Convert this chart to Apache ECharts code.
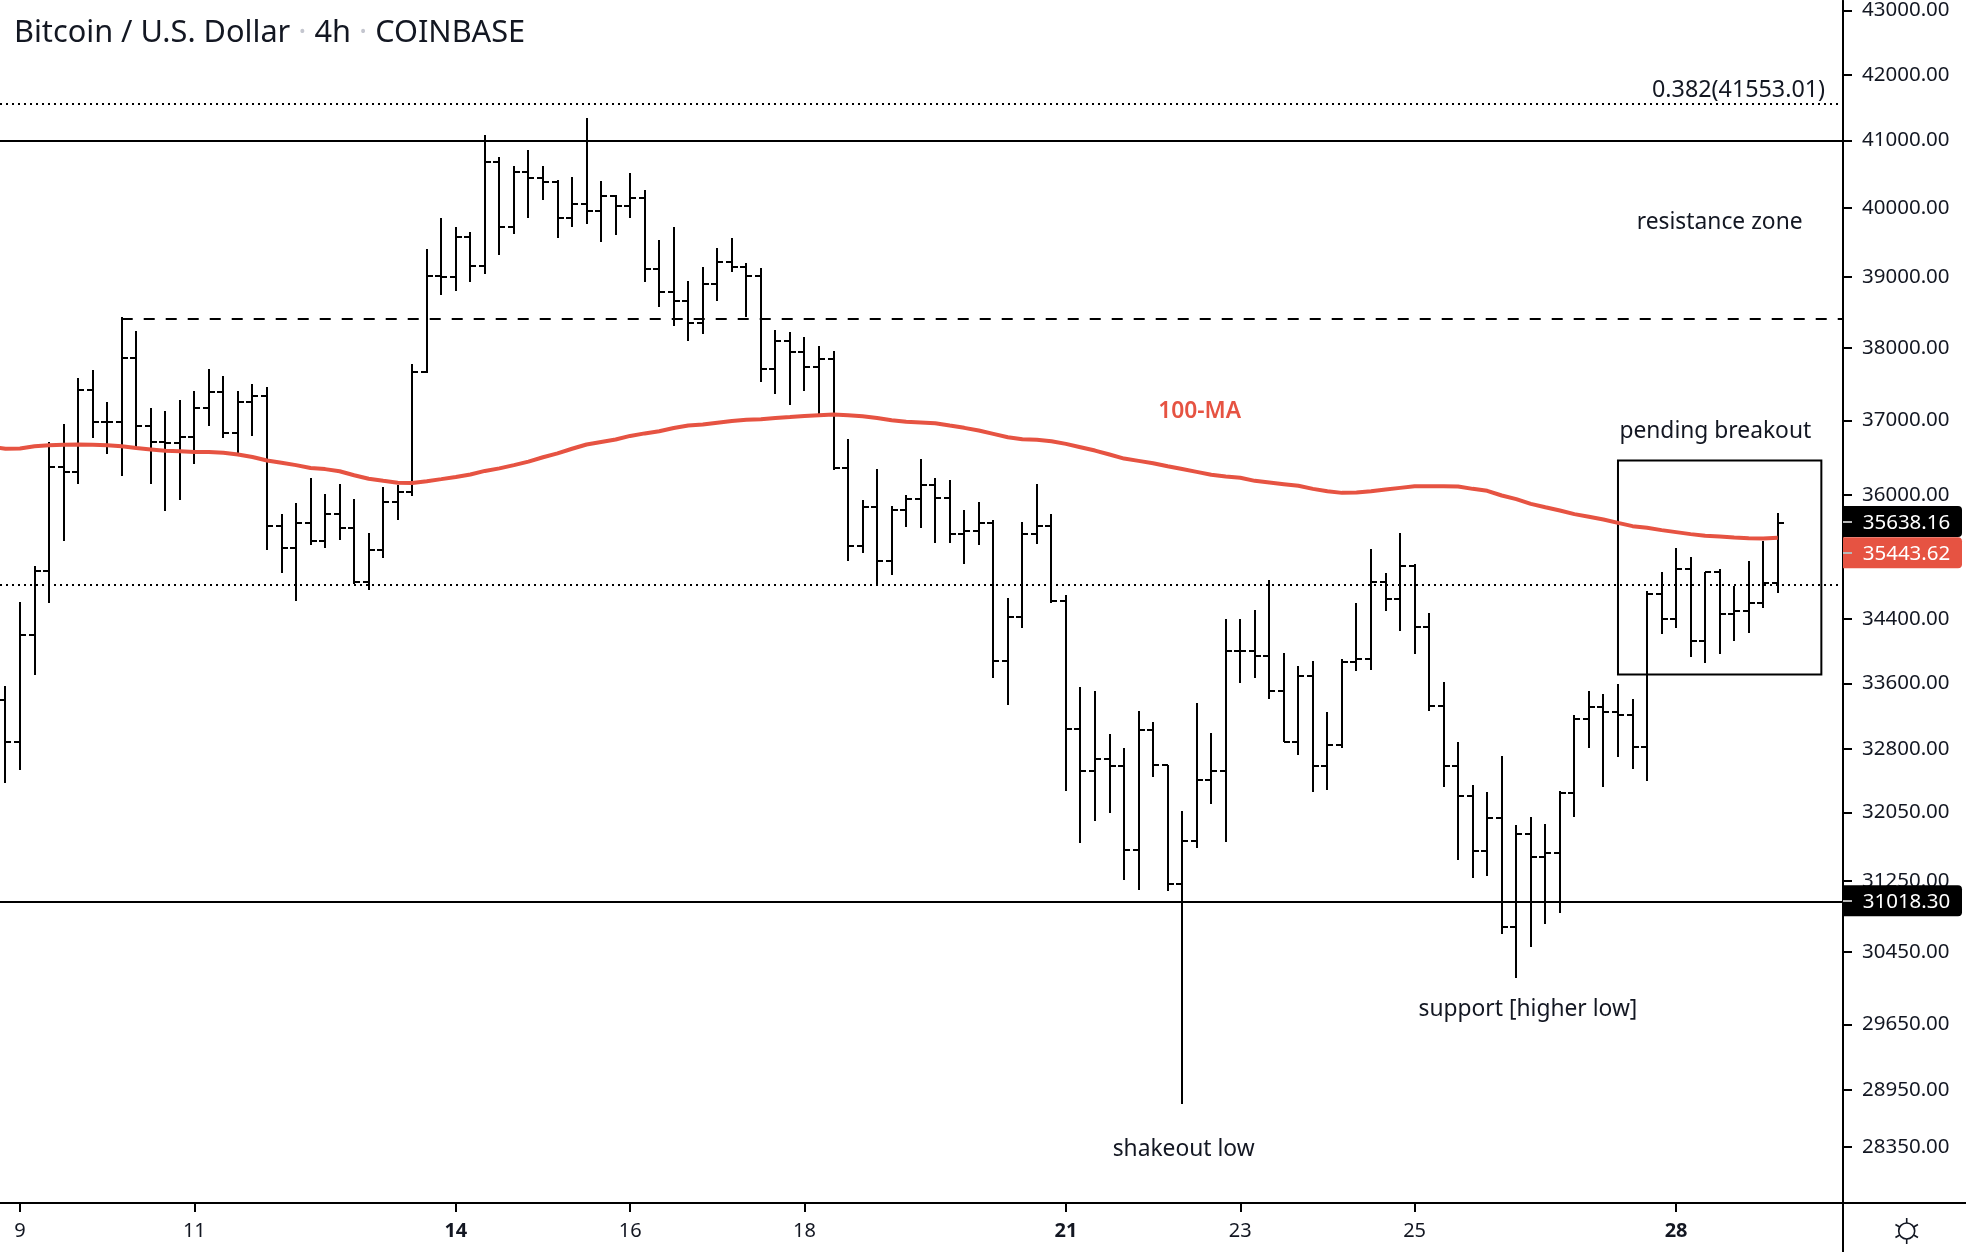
<!DOCTYPE html>
<html><head><meta charset="utf-8">
<script src="https://cdn.jsdelivr.net/npm/echarts@6/dist/echarts.min.js"></script>
<style>html,body{margin:0;padding:0;background:#fff}#c{width:1966px;height:1252px}</style>
</head><body><div id="c"></div>
<script>
const FONT = '"Noto Sans", sans-serif';
const INK = '#000000';
const RED = '#e65342';
const titleText = ['Bitcoin / U.S. Dollar', '4h', 'COINBASE'];
const opens = [
33402,32885,34196,35012,36380,36303,37413,36984,36984,37851,
36922,36705,36690,36777,37164,37393,36825,37256,37339,35602,
35305,35635,35407,35752,35565,34874,35278,35916,36048,37663,
39018,38992,39568,39161,40676,39724,40533,40432,40384,39844,
40053,39958,40168,40032,40137,39110,38779,38662,38350,38896,
39207,39146,39018,37708,38100,37945,37727,37841,36365,35342,
35841,35136,35809,35947,36130,35958,35490,35528,35638,33875,
34422,35490,35594,34625,33044,32538,32679,32598,31608,33034,
32614,31216,31711,32428,32538,34000,34000,33938,33501,32881,
33686,32597,32845,33859,33896,34871,34654,35072,34296,33326,
32597,32241,31597,31986,30730,31795,31528,31574,32276,33159,
33305,33253,33208,32821,34714,34401,35033,34121,34999,34460,
34498,34599,34866];
const highs = [
33567,34620,35080,36710,36955,37580,37693,37252,38430,38234,
37174,37135,37281,37403,37708,37609,37403,37501,37457,35756,
35897,36228,36019,36152,35954,35505,36109,36138,37777,39403,
39849,39719,39646,41077,40751,40617,40857,40617,40411,40453,
41341,40395,40184,40511,40263,39532,39719,38941,39141,39413,
39558,39197,39125,38249,38219,38149,38025,37955,36753,35939,
36348,35864,35997,36477,36225,36203,35809,35914,35676,34673,
35649,36147,35753,34710,33557,33511,32983,32815,33264,33126,
32609,32070,33361,32998,34406,34406,34519,34892,33979,33818,
33880,33253,33905,34608,35299,34990,35507,35106,34481,33620,
32889,32375,32292,32721,31904,31998,31916,32304,33216,33510,
33473,33596,33411,34752,35003,35312,35196,34999,35037,34824,
35144,35407,35768];
const lows = [
32395,32549,33702,34610,35398,36147,36762,36547,36251,36642,
36147,35789,35935,36413,36922,36762,36556,36786,35287,34988,
34628,35347,35310,35412,34842,34774,35186,35672,35991,37653,
38738,38794,38926,39038,39310,39615,39849,40110,39563,39719,
39760,39496,39599,39849,38921,38566,38310,38090,38189,38652,
39064,38435,37521,37359,37208,37398,37043,36337,35140,35245,
34828,34968,35588,35572,35380,35380,35109,35348,33666,33341,
34295,35359,34609,32303,31691,31946,32040,31259,31149,32468,
31139,28797,31628,32149,31701,33604,33665,33407,32881,32729,
32288,32312,32817,33752,33764,34502,34250,33963,33265,32347,
31493,31286,31309,30651,30161,30505,30763,30888,31994,32813,
32347,32705,32561,32418,34213,34292,33925,33851,33963,34125,
34225,34540,34730];
const closes = [
32885,34196,35012,36380,36303,37413,36984,36984,37851,36922,
36705,36690,36777,37164,37393,36825,37256,37339,35602,35305,
35635,35407,35752,35565,34874,35278,35916,36048,37663,39018,
38992,39568,39161,40676,39724,40533,40432,40384,39844,40053,
39958,40168,40032,40137,39110,38779,38662,38350,38896,39207,
39146,39018,37708,38100,37945,37727,37841,36365,35342,35841,
35136,35809,35947,36130,35958,35490,35528,35638,33875,34422,
35490,35594,34625,33044,32538,32679,32598,31608,33034,32614,
31216,31711,32428,32538,34000,34000,33938,33501,32881,33686,
32597,32845,33859,33896,34871,34654,35072,34296,33326,32597,
32241,31597,31986,30730,31795,31528,31574,32276,33159,33305,
33253,33208,32821,34714,34401,35033,34121,34999,34460,34498,
34599,34866,35638.16];
// 100-period moving average; the first value belongs to the bar just before the visible window
const ma100 = [
36642,36618,36623,36652,36666,36671,36676,36671,36666,36652,
36628,36609,36590,36585,36575,36575,36566,36542,36508,36461,
36432,36399,36360,36346,36318,36265,36218,36190,36166,36161,
36185,36213,36242,36275,36322,36356,36399,36446,36504,36556,
36618,36676,36710,36743,36791,36825,36854,36897,36931,36946,
36970,36994,37009,37018,37033,37047,37062,37072,37081,37072,
37057,37033,37004,36984,36974,36963,36931,36900,36864,36819,
36774,36747,36738,36720,36684,36639,36594,36541,36487,36456,
36425,36385,36348,36309,36270,36248,36231,36190,36168,36146,
36124,36084,36053,36031,36036,36053,36075,36097,36119,36119,
36119,36115,36084,36058,35996,35948,35886,35842,35799,35751,
35716,35681,35637,35594,35572,35542,35516,35490,35468,35459,
35446,35438,35433,35443.62];
const dayTickBars = [1,13,31,43,55,73,85,97,115];
const dayLabels = ['9','11','14','16','18','21','23','25','28'];
const boldDays = ['14','21','28'];
const priceTicks = [43000,42000,41000,40000,39000,38000,37000,36000,34400,33600,32800,32050,31250,30450,29650,28950,28350];
const fibLevel = 41553.01;
const resistanceLevel = 41000;
const breakoutLevel = 38410;
const midLevel = 34841;
const supportLevel = 31018.30;
const breakoutBar = 8;
const boxBars = [111,125];
const boxPrices = [36461,33711];
const lastPriceTags = [['35638.16','#000000',521.5],['35443.62',RED,552.7],['31018.30','#000000',900.8]];
const noteTexts = ['0.382(41553.01)','resistance zone','100-MA','pending breakout','support [higher low]','shakeout low'];
const noteBars = [119.3,118,82.2,117.7,104.8,81.1];
const notePrices = [41770,39804,37135,36864,29827,28336];

const xMin = -0.3786, xMax = 126.49;
const ohlc = opens.map((o,i)=>[i,o,closes[i],lows[i],highs[i]]);
const maData = ma100.map((v,i)=>[i-1,v]);
const notes = noteTexts.map((t,i)=>[noteBars[i],notePrices[i],i]);

function renderBar(params, api){
  const i = api.value(0);
  const x = Math.round(api.coord([i,api.value(1)])[0]);
  const y = v => Math.round(api.coord([i,v])[1]);
  const st = {stroke:INK,lineWidth:2,fill:null};
  return {type:'group',children:[
    {type:'line',shape:{x1:x,y1:y(api.value(4)),x2:x,y2:y(api.value(3))},style:st},
    {type:'line',shape:{x1:x-6,y1:y(api.value(1)),x2:x,y2:y(api.value(1))},style:st},
    {type:'line',shape:{x1:x,y1:y(api.value(2)),x2:x+6,y2:y(api.value(2))},style:st}
  ]};
}
function renderNote(params, api){
  const p = api.coord([api.value(0),api.value(1)]);
  const idx = api.value(2);
  const isMa = noteTexts[idx]==='100-MA';
  const isFib = idx===0;
  return {type:'text',x:p[0],y:p[1]+1,style:{text:noteTexts[idx],fill:isMa?RED:'#131722',
    font:(isMa?'600 ':'')+(isFib?'23.3px ':'22.8px ')+FONT,align:'center',verticalAlign:'middle'}};
}

const AX = 1843, BASE = 1203;
const chrome = [
  {type:'line',z:5,shape:{x1:AX,y1:BASE,x2:1966,y2:BASE},style:{stroke:INK,lineWidth:2}},
  {type:'line',z:5,shape:{x1:AX,y1:BASE,x2:AX,y2:1252},style:{stroke:INK,lineWidth:2}}
];
lastPriceTags.forEach(t=>{
  chrome.push({type:'rect',z:20,shape:{x:AX,y:t[2]-15.5,width:119,height:31,r:[0,4,4,0]},style:{fill:t[1]}});
  chrome.push({type:'line',z:21,shape:{x1:AX,y1:Math.round(t[2]),x2:AX+9,y2:Math.round(t[2])},style:{stroke:'#b8b8b8',lineWidth:2}});
  chrome.push({type:'text',z:21,x:1906.5,y:t[2]+1.5,style:{text:t[0],fill:'#ffffff',font:'20.5px '+FONT,align:'center',verticalAlign:'middle'}});
});
// settings cog
const cx=1906.7, cy=1231;
chrome.push({type:'circle',z:5,shape:{cx:cx,cy:cy,r:8},style:{fill:'none',stroke:'#131722',lineWidth:1.6}});
[90,30,-30,-90,-150,150].forEach(a=>{
  const r=a*Math.PI/180;
  chrome.push({type:'line',z:5,shape:{x1:cx+8*Math.cos(r),y1:cy-8*Math.sin(r),x2:cx+13*Math.cos(r),y2:cy-13*Math.sin(r)},style:{stroke:'#131722',lineWidth:1.6}});
});

const chart = echarts.init(document.getElementById('c'),null,{renderer:'canvas'});
chart.setOption({
  animation:false,
  backgroundColor:'#ffffff',
  title:{left:14,top:18,padding:0,text:titleText[0]+' {d|·} '+titleText[1]+' {d|·} '+titleText[2],
    textStyle:{fontFamily:FONT,fontSize:30.7,fontWeight:'normal',color:'#131722',rich:{d:{color:'#c4c6cf',fontSize:30.7,fontFamily:FONT}}}},
  grid:{left:0,top:0,right:123,height:BASE},
  xAxis:{type:'value',min:xMin,max:xMax,splitLine:{show:false},
    axisLine:{onZero:false,lineStyle:{color:INK,width:2}},
    axisTick:{customValues:dayTickBars,length:9,lineStyle:{color:INK,width:2}},
    axisLabel:{customValues:dayTickBars,margin:18,fontFamily:FONT,fontSize:20,color:'#131722',
      formatter:v=>{const s=dayLabels[dayTickBars.indexOf(v)];return boldDays.includes(s)?'{b|'+s+'}':s;},
      rich:{b:{fontFamily:FONT,fontSize:20,fontWeight:'bold',color:'#131722'}}}},
  yAxis:{type:'log',logBase:Math.E,position:'right',min:27773,max:43155,splitLine:{show:false},
    axisLine:{show:true,onZero:false,lineStyle:{color:INK,width:2}},
    axisTick:{show:true,customValues:priceTicks,length:9,lineStyle:{color:INK,width:2}},
    axisLabel:{customValues:priceTicks,margin:19,padding:[4,0,0,0],fontFamily:FONT,fontSize:20.5,color:'#131722',formatter:v=>v.toFixed(2)}},
  series:[
    {name:'BTCUSD',type:'custom',coordinateSystem:'cartesian2d',renderItem:renderBar,data:ohlc,
      encode:{x:0,y:[1,2,3,4]},clip:true,z:3},
    {name:'100-MA',type:'line',data:maData,showSymbol:false,symbol:'none',clip:true,z:4,
      lineStyle:{color:RED,width:4},
      markLine:{silent:true,symbol:'none',animation:false,label:{show:false},z:2,
        data:[
          {yAxis:fibLevel,lineStyle:{color:INK,width:2,type:[2,4]}},
          {yAxis:resistanceLevel,lineStyle:{color:INK,width:2,type:'solid'}},
          {yAxis:midLevel,lineStyle:{color:INK,width:2,type:[2,4]}},
          {yAxis:supportLevel,lineStyle:{color:INK,width:2,type:'solid'}},
          [{coord:[breakoutBar,breakoutLevel],lineStyle:{color:INK,width:2,type:[11,11]}},{coord:[xMax,breakoutLevel]}]
        ]},
      markArea:{silent:true,z:2,itemStyle:{color:'rgba(0,0,0,0)',borderColor:INK,borderWidth:2},
        data:[[{coord:[boxBars[0],boxPrices[0]]},{coord:[boxBars[1],boxPrices[1]]}]]}},
    {name:'notes',type:'custom',coordinateSystem:'cartesian2d',renderItem:renderNote,data:notes,
      encode:{x:0,y:1},clip:false,silent:true,z:6}
  ],
  graphic:{elements:chrome}
});
</script></body></html>
